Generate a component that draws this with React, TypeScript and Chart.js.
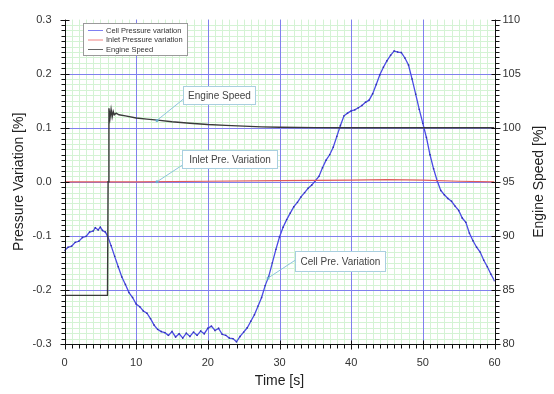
import React, { useEffect, useRef } from "react";
import { Chart, registerables } from "chart.js";

Chart.register(...registerables);

// ---------- data ----------
const cellTime = [
  0, 0.5, 1, 1.5, 2, 2.5, 3, 3.5, 4, 4.3, 4.7, 5, 5.3, 5.7, 6, 6.5, 7, 7.5, 8, 8.5,
  9, 9.5, 10, 10.5, 11, 11.5, 12, 12.5, 13, 13.5, 14, 14.5, 15, 15.5, 16, 16.5, 17, 17.5,
  18, 18.5, 19, 19.5, 20, 20.5, 21, 21.5, 22, 22.5, 23, 23.5, 24, 24.5, 25, 25.5, 26,
  26.5, 27, 27.5, 28, 28.5, 29, 29.5, 30, 30.5, 31, 31.5, 32, 32.5, 33, 33.5, 34, 34.5,
  35, 35.5, 36, 36.5, 37, 37.5, 38, 38.5, 39, 39.5, 40, 40.5, 41, 41.5, 42, 42.5, 43,
  43.5, 44, 44.5, 45, 45.5, 46, 46.5, 47, 47.5, 48, 48.5, 49, 49.5, 50, 50.5, 51, 51.5,
  52, 52.5, 53, 53.5, 54, 54.5, 55, 55.5, 56, 56.5, 57, 57.5, 58, 58.5, 59, 59.5, 60,
];
const cellPressure = [
  -0.127, -0.121, -0.119, -0.112, -0.110, -0.103, -0.101, -0.093, -0.091, -0.085, -0.089,
  -0.084, -0.090, -0.093, -0.100, -0.118, -0.138, -0.157, -0.176, -0.190,
  -0.205, -0.214, -0.226, -0.231, -0.239, -0.243, -0.253, -0.265, -0.273, -0.277, -0.279,
  -0.284, -0.277, -0.287, -0.281, -0.289, -0.280, -0.286, -0.278, -0.284, -0.276, -0.281,
  -0.271, -0.267, -0.275, -0.271, -0.282, -0.284, -0.289, -0.290, -0.296, -0.286, -0.278,
  -0.270, -0.258, -0.246, -0.230, -0.214, -0.192, -0.175, -0.150, -0.125, -0.102, -0.084,
  -0.070, -0.058, -0.046, -0.038, -0.028, -0.020, -0.012, -0.006, 0.002, 0.010, 0.026,
  0.040, 0.050, 0.064, 0.084, 0.104, 0.122, 0.127, 0.131, 0.133, 0.137, 0.141, 0.147,
  0.151, 0.163, 0.180, 0.198, 0.212, 0.224, 0.234, 0.242, 0.240, 0.239, 0.229, 0.216,
  0.190, 0.162, 0.134, 0.108, 0.082, 0.050, 0.024, 0.002, -0.016, -0.024, -0.031, -0.036,
  -0.045, -0.053, -0.067, -0.075, -0.095, -0.109, -0.121, -0.130, -0.145, -0.157, -0.171,
  -0.183,
];

const inletTime = [0, 10, 20, 30, 40, 45, 50, 55, 60];
const inletPressure = [0.0, 0.0, 0.001, 0.002, 0.003, 0.004, 0.003, 0.001, 0.0];

const speedTime = [
  0, 6.0, 6.08, 6.2, 6.35, 6.5, 6.65, 6.8, 6.95, 7.2, 7.6, 8.5, 10, 11.5, 13, 15, 17.5,
  20, 22.5, 25, 27.5, 30, 35, 40, 50, 60,
];
const engineSpeed = [
  84.5, 84.5, 95.0, 101.8, 100.9, 101.7, 101.0, 101.5, 101.2, 101.35, 101.2, 101.1,
  100.9, 100.8, 100.7, 100.55, 100.42, 100.3, 100.22, 100.15, 100.08, 100.04, 100.01,
  100.0, 100.0, 100.0,
];

const xTicks = [0, 10, 20, 30, 40, 50, 60];
const leftTicks = [-0.3, -0.2, -0.1, 0.0, 0.1, 0.2, 0.3];
const rightTicks = [80, 85, 90, 95, 100, 105, 110];

const legendLabels = ["Cell Pressure variation", "Inlet Pressure variation", "Engine Speed"];
const noteTexts = ["Engine Speed", "Inlet Pre. Variation", "Cell Pre. Variation"];

const FONT = "Arial, 'Liberation Sans', sans-serif";

function pts(xs: number[], ys: number[]) {
  return xs.map((x, i) => ({ x, y: ys[i] }));
}

const decorPlugin = {
  id: "decor",
  beforeDatasetsDraw(chart: any) {
    const { ctx, chartArea: a, scales } = chart;
    const x = scales.x;
    const y = scales.y;
    ctx.save();
    ctx.fillStyle = "#ffffff";
    ctx.fillRect(a.left, a.top, a.right - a.left, a.bottom - a.top);
    ctx.lineWidth = 1;
    ctx.strokeStyle = "#d4f3d4";
    ctx.beginPath();
    for (let i = 1; i < 60; i++) {
      const px = Math.round(x.getPixelForValue(i)) + 0.5;
      ctx.moveTo(px, a.top);
      ctx.lineTo(px, a.bottom);
    }
    for (let i = 1; i < 60; i++) {
      const py = Math.round(y.getPixelForValue(-0.3 + i * 0.01)) + 0.5;
      ctx.moveTo(a.left, py);
      ctx.lineTo(a.right, py);
    }
    ctx.stroke();
    ctx.strokeStyle = "#8080ee";
    ctx.beginPath();
    xTicks.slice(1, -1).forEach((t) => {
      const px = Math.round(x.getPixelForValue(t)) + 0.5;
      ctx.moveTo(px, a.top);
      ctx.lineTo(px, a.bottom);
    });
    leftTicks.slice(1, -1).forEach((v) => {
      const py = Math.round(y.getPixelForValue(v)) + 0.5;
      ctx.moveTo(a.left, py);
      ctx.lineTo(a.right, py);
    });
    ctx.stroke();
    ctx.restore();
  },
  afterDatasetsDraw(chart: any) {
    const { ctx, chartArea: a, scales } = chart;
    const x = scales.x;
    const y = scales.y;
    const y1 = scales.y1;
    ctx.save();
    // axes
    ctx.strokeStyle = "#111";
    ctx.lineWidth = 1;
    const L = Math.round(a.left) + 0.5;
    const R = Math.round(a.right) + 0.5;
    const B = Math.round(a.bottom) + 0.5;
    ctx.beginPath();
    ctx.moveTo(L, a.top);
    ctx.lineTo(L, B);
    ctx.lineTo(R, B);
    ctx.lineTo(R, a.top);
    // x ticks
    for (let i = 0; i <= 60; i++) {
      const px = Math.round(x.getPixelForValue(i)) + 0.5;
      const major = i % 10 === 0;
      ctx.moveTo(px, B - (major ? 4 : 0));
      ctx.lineTo(px, B + (major ? 5 : 4));
    }
    // left / right ticks
    for (let i = 0; i <= 60; i++) {
      const py = Math.round(y.getPixelForValue(-0.3 + i * 0.01)) + 0.5;
      const major = i % 10 === 0;
      ctx.moveTo(L + (major ? 4 : 0), py);
      ctx.lineTo(L - (major ? 5 : 4), py);
      ctx.moveTo(R - (major ? 4 : 0), py);
      ctx.lineTo(R + (major ? 5 : 4), py);
    }
    ctx.stroke();

    // axis titles
    ctx.fillStyle = "#222";
    ctx.font = `14px ${FONT}`;
    ctx.textAlign = "center";
    ctx.textBaseline = "middle";
    ctx.fillText("Time [s]", (a.left + a.right) / 2, 381);
    const cy = (a.top + a.bottom) / 2;
    ctx.save();
    ctx.translate(19, cy);
    ctx.rotate(-Math.PI / 2);
    ctx.fillText("Pressure Variation [%]", 0, 0);
    ctx.restore();
    ctx.save();
    ctx.translate(539, cy);
    ctx.rotate(-Math.PI / 2);
    ctx.fillText("Engine Speed [%]", 0, 0);
    ctx.restore();

    // legend
    ctx.fillStyle = "#ffffff";
    ctx.fillRect(83.5, 23.5, 104, 32);
    ctx.strokeStyle = "#9a9a9a";
    ctx.strokeRect(83.5, 23.5, 104, 32);
    const legColors = ["#7f7ff2", "#f08080", "#666666"];
    ctx.font = `7.5px ${FONT}`;
    ctx.textAlign = "left";
    legendLabels.forEach((lab, i) => {
      const ly = 30 + i * 9.5;
      ctx.strokeStyle = legColors[i];
      ctx.beginPath();
      ctx.moveTo(88, ly + 0.5);
      ctx.lineTo(103, ly + 0.5);
      ctx.stroke();
      ctx.fillStyle = "#333";
      ctx.fillText(lab, 106, ly + 0.5);
    });

    // annotations
    const notes = [
      { box: [183.5, 86.5, 72, 18], from: [183.5, 99], to: [x.getPixelForValue(12.9), y1.getPixelForValue(100.68)] },
      { box: [182.5, 150.5, 95, 18], from: [182.5, 165], to: [x.getPixelForValue(12.9), y.getPixelForValue(0)] },
      { box: [295.5, 251.5, 90, 20], from: [295.5, 260], to: [x.getPixelForValue(28.4), y.getPixelForValue(-0.178)] },
    ];
    notes.forEach((n, i) => {
      ctx.strokeStyle = "#8cc4dc";
      ctx.lineWidth = 1;
      ctx.beginPath();
      ctx.moveTo(n.from[0], n.from[1]);
      ctx.lineTo(n.to[0], n.to[1]);
      ctx.stroke();
      ctx.fillStyle = "#6aaed0";
      ctx.beginPath();
      ctx.arc(n.to[0], n.to[1], 1.5, 0, Math.PI * 2);
      ctx.fill();
      const [bx, by, bw, bh] = n.box;
      ctx.fillStyle = "#ffffff";
      ctx.fillRect(bx, by, bw, bh);
      ctx.strokeStyle = "#a9cfe0";
      ctx.strokeRect(bx, by, bw, bh);
      ctx.fillStyle = "#444";
      ctx.font = `10px ${FONT}`;
      ctx.textAlign = "center";
      ctx.textBaseline = "middle";
      ctx.fillText(noteTexts[i], bx + bw / 2, by + bh / 2 + 0.5);
    });
    ctx.restore();
  },
};

export default function App() {
  const ref = useRef<HTMLCanvasElement | null>(null);
  useEffect(() => {
    if (!ref.current) return;
    const tickFont = { family: FONT, size: 11 };
    const chart = new Chart(ref.current, {
      type: "line",
      data: {
        datasets: [
          {
            label: legendLabels[2],
            data: pts(speedTime, engineSpeed),
            yAxisID: "y1",
            borderColor: "#3a3a3a",
            borderWidth: 1.4,
            pointRadius: 0,
            tension: 0,
          },
          {
            label: legendLabels[1],
            data: pts(inletTime, inletPressure),
            yAxisID: "y",
            borderColor: "#e05a5a",
            borderWidth: 1.2,
            pointRadius: 0,
            tension: 0,
          },
          {
            label: legendLabels[0],
            data: pts(cellTime, cellPressure),
            yAxisID: "y",
            borderColor: "#4b4be6",
            borderWidth: 1.3,
            pointRadius: 1,
            pointStyle: "rect",
            pointBackgroundColor: "#3333aa",
            pointBorderWidth: 0,
            tension: 0,
          },
        ],
      },
      options: {
        responsive: false,
        maintainAspectRatio: false,
        devicePixelRatio: 1,
        animation: false,
        layout: { autoPadding: false, padding: { top: 12, left: 0, right: 0, bottom: 0 } },
        plugins: { legend: { display: false }, tooltip: { enabled: false } },
        scales: {
          x: {
            type: "linear",
            min: 0,
            max: 60,
            afterBuildTicks: (s: any) => { s.ticks = xTicks.map((v) => ({ value: v })); },
            afterFit: (s: any) => { s.height = 50; },
            grid: { display: false, drawTicks: false },
            border: { display: false },
            ticks: { font: tickFont, color: "#333", padding: 12, maxRotation: 0 },
          },
          y: {
            type: "linear",
            position: "left",
            min: -0.3,
            max: 0.3,
            afterBuildTicks: (s: any) => { s.ticks = leftTicks.map((v) => ({ value: v })); },
            afterFit: (s: any) => { s.width = 64.5; },
            grid: { display: false, drawTicks: false },
            border: { display: false },
            ticks: {
              font: tickFont,
              color: "#333",
              padding: 13,
              callback: (v: any) => (Math.abs(v) < 1e-9 ? "0.0" : Number(v).toFixed(1)),
            },
          },
          y1: {
            type: "linear",
            position: "right",
            min: 80,
            max: 110,
            afterBuildTicks: (s: any) => { s.ticks = rightTicks.map((v) => ({ value: v })); },
            afterFit: (s: any) => { s.width = 59.5; },
            grid: { display: false, drawTicks: false },
            border: { display: false },
            ticks: { font: tickFont, color: "#333", padding: 8 },
          },
        },
      },
      plugins: [decorPlugin],
    } as any);
    return () => chart.destroy();
  }, []);
  return (
    <div style={{ position: "fixed", left: 0, top: 0, width: 554, height: 394, background: "#fff" }}>
      <canvas ref={ref} width={554} height={394} style={{ display: "block", width: 554, height: 394 }} />
    </div>
  );
}
